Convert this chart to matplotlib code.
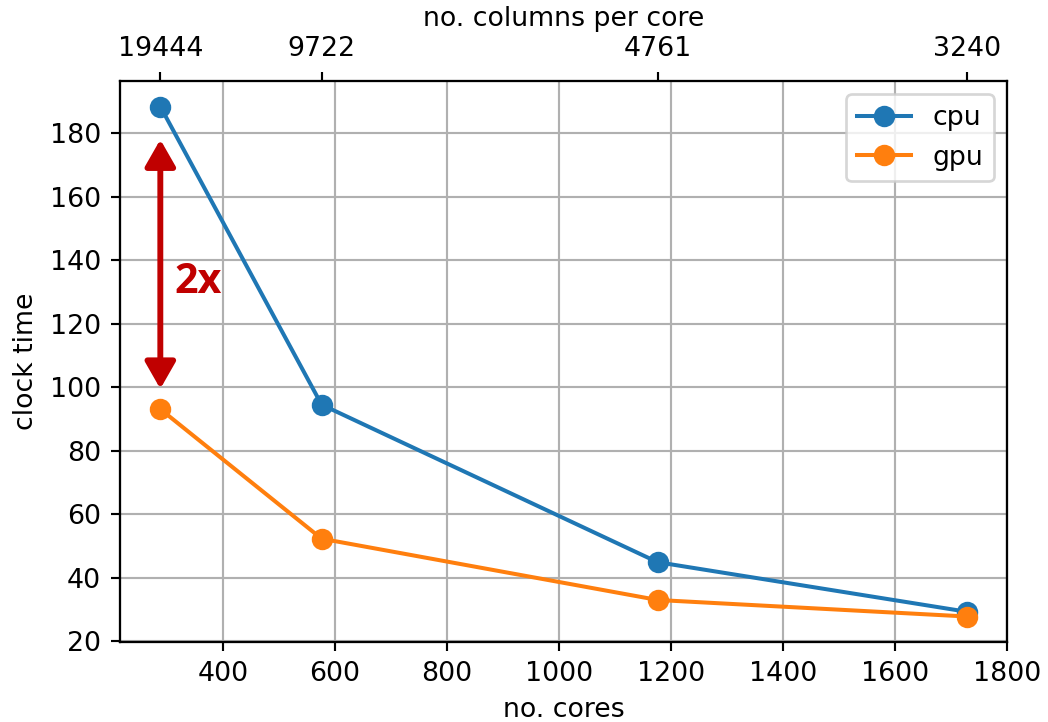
import numpy as np
import matplotlib
matplotlib.use("Agg")
import matplotlib.pyplot as plt

# data
cores = [288, 576, 1176, 1728]
cols_per_core = ["19444", "9722", "4761", "3240"]
cpu_time = [188.4, 94.5, 44.9, 29.3]
gpu_time = [93.1, 52.3, 33.0, 27.8]

dpi = 193
fig = plt.figure(figsize=(1048 / dpi, 722 / dpi), dpi=dpi)
ax = fig.add_axes([0.1145, 0.1108, 0.8465, 0.777])

ax.plot(cores, cpu_time, "o-", label="cpu", ms=7)
ax.plot(cores, gpu_time, "o-", label="gpu", ms=7)
ax.grid(True)
ax.set_xlabel("no. cores")
ax.set_ylabel("clock time")
ax.legend(loc="upper right")

# speedup annotation
ax.annotate("", xy=(cores[0], 178), xytext=(cores[0], 99.5),
            arrowprops=dict(arrowstyle="<|-|>,head_length=0.35,head_width=0.2",
                            color="#c00000", lw=2.2, mutation_scale=24,
                            shrinkA=0, shrinkB=0))
ax.text(cores[0] + 25, 133, "2x", color="#c00000", fontsize=15.4,
        fontweight="bold", family="Open Sans", va="center", ha="left")

ax2 = ax.twiny()
ax2.set_xlim(ax.get_xlim())
ax2.set_xticks(cores)
ax2.set_xticklabels(cols_per_core)
ax2.set_xlabel("no. columns per core")

fig.savefig("out.png", dpi=dpi)
